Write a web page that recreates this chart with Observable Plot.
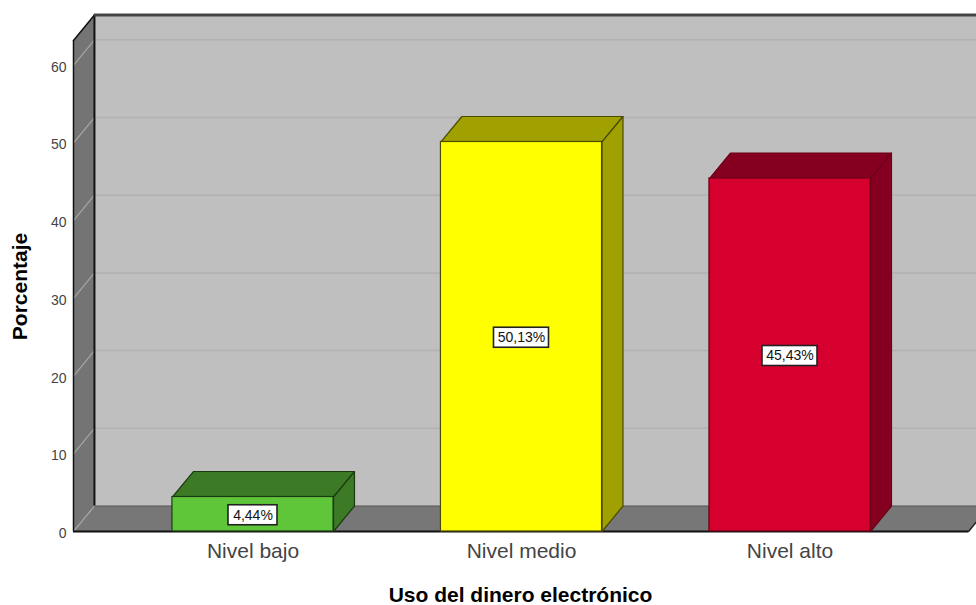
<!DOCTYPE html>
<html>
<head>
<meta charset="utf-8">
<script src="https://cdn.jsdelivr.net/npm/d3@7"></script>
<script src="https://cdn.jsdelivr.net/npm/@observablehq/plot@0.6"></script>
<style>
html,body{margin:0;padding:0;background:#fff;overflow:hidden}
svg{display:block;overflow:hidden}
</style>
</head>
<body>
<div id="chart"></div>
<script>
const categories = ["Nivel bajo", "Nivel medio", "Nivel alto"];
const values = [4.44, 50.13, 45.43];
const yTicks = [0, 10, 20, 30, 40, 50, 60];
const xTitle = "Uso del dinero electrónico";
const yTitle = "Porcentaje";

// 3D projection, expressed in scale units
const halfBar = 0.3, depthX = 0.078, depthY = 3.28;
const wallLeft = -0.6685, wallRight = 2.665, wallTop = 63.2;

const faceFront = ["#5fc63a", "#ffff00", "#d6002e"];
const faceDark = ["#3c7a26", "#a0a000", "#850020"];
const faceEdge = ["#1c3a12", "#4a4a00", "#6a0018"];

const polys = [];
const addPoly = (id, fill, stroke, pts) => {
  [...pts, pts[0]].forEach(([x, y]) => polys.push({id, fill, stroke, x, y}));
};
const wallPolys = [];
const addWall = (id, fill, pts) => {
  [...pts, pts[0]].forEach(([x, y]) => wallPolys.push({id, fill, x, y}));
};
addWall("back", "#bfbfbf", [[wallLeft + depthX, depthY], [wallRight + depthX, depthY], [wallRight + depthX, wallTop + depthY], [wallLeft + depthX, wallTop + depthY]]);
addWall("side", "#747474", [[wallLeft, 0], [wallLeft + depthX, depthY], [wallLeft + depthX, wallTop + depthY], [wallLeft, wallTop]]);
addWall("floor", "#777777", [[wallLeft, 0], [wallRight, 0], [wallRight + depthX, depthY], [wallLeft + depthX, depthY]]);

categories.forEach((c, i) => {
  const x0 = i - halfBar, x1 = i + halfBar, v = values[i];
  addPoly(c + "-top", faceDark[i], faceEdge[i], [[x0, v], [x1, v], [x1 + depthX, v + depthY], [x0 + depthX, v + depthY]]);
  addPoly(c + "-side", faceDark[i], faceEdge[i], [[x1, 0], [x1 + depthX, depthY], [x1 + depthX, v + depthY], [x1, v]]);
});

const rows = categories.map((c, i) => ({
  i, c, v: values[i],
  label: values[i].toFixed(2).replace(".", ",") + "%"
}));
const labelHalfWidth = d => 3 * d.label.length + 9.5;

const sideTicks = yTicks.flatMap(t => [
  {t, x: wallLeft, y: t},
  {t, x: wallLeft + depthX, y: t + depthY}
]);

const chart = Plot.plot({
  width: 976,
  height: 605,
  marginLeft: 73,
  marginRight: 0,
  marginTop: 15,
  marginBottom: 74,
  style: {fontFamily: "Liberation Sans, Arial, sans-serif", background: "#fff"},
  x: {domain: [wallLeft, wallLeft + 903 / 268.5], range: [73, 976]},
  y: {domain: [0, 516 / 7.77]},
  marks: [
    Plot.line(wallPolys, {x: "x", y: "y", z: "id", fill: "fill", stroke: "none"}),
    Plot.ruleY(yTicks.slice(1), {
      y: d => d + depthY, x1: wallLeft + depthX, x2: wallRight + depthX,
      stroke: "#b1b1b1", strokeWidth: 1.5
    }),
    Plot.line(sideTicks, {x: "x", y: "y", z: "t", stroke: "#a6a6a6", strokeWidth: 1.2}),
    // wall edges
    Plot.ruleX([wallLeft], {y1: 0, y2: wallTop, stroke: "#111", strokeWidth: 1.5}),
    Plot.ruleX([wallLeft + depthX], {y1: depthY, y2: wallTop + depthY, stroke: "#111", strokeWidth: 2}),
    Plot.line([[wallLeft, wallTop], [wallLeft + depthX, wallTop + depthY]], {stroke: "#111", strokeWidth: 1.5}),
    Plot.ruleY([wallTop + depthY], {x1: wallLeft + depthX, x2: wallRight + depthX, stroke: "#444", strokeWidth: 3}),
    Plot.ruleY([depthY], {x1: wallLeft + depthX, x2: wallRight + depthX, stroke: "#555", strokeWidth: 1.2}),
    Plot.line([[wallRight, 0], [wallRight + depthX, depthY]], {stroke: "#222", strokeWidth: 1.5}),
    Plot.ruleY([0], {x1: wallLeft, x2: wallRight, stroke: "#111", strokeWidth: 2}),
    // bars
    Plot.line(polys, {x: "x", y: "y", z: "id", fill: "fill", stroke: "stroke", strokeWidth: 1.2}),
    Plot.rect(rows, {
      x1: d => d.i - halfBar, x2: d => d.i + halfBar, y1: 0, y2: "v",
      fill: d => faceFront[d.i], stroke: d => faceEdge[d.i], strokeWidth: 1.2
    }),
    // value labels
    ...rows.map(d => Plot.rect([d], {
      x1: "i", x2: "i", y1: e => e.v / 2, y2: e => e.v / 2,
      insetLeft: -labelHalfWidth(d), insetRight: -labelHalfWidth(d), insetTop: -10, insetBottom: -10,
      dy: 1, fill: "#fff", stroke: "#222", strokeWidth: 1.6
    })),
    Plot.text(rows, {
      x: "i", y: d => d.v / 2, text: "label", dy: 1,
      fontSize: 14, fill: "#111", textAnchor: "middle"
    }),
    // axes
    Plot.axisY({
      ticks: yTicks, tickSize: 0, tickPadding: 7, label: null,
      fontSize: 14, color: "#444", dy: 2
    }),
    Plot.axisX({
      ticks: [0, 1, 2], tickFormat: i => categories[i], tickSize: 0, tickPadding: 12, label: null,
      fontSize: 21, color: "#444"
    }),
    Plot.text([yTitle], {
      text: d => d, frameAnchor: "left", textAnchor: "middle", lineAnchor: "middle", rotate: -90, dx: -53, dy: 13,
      fontSize: 21, fontWeight: "bold", fill: "#000"
    }),
    Plot.text([xTitle], {
      text: d => d, frameAnchor: "bottom", textAnchor: "middle", lineAnchor: "middle", dy: 64, dx: -4.5,
      fontSize: 21, fontWeight: "bold", fill: "#000"
    })
  ]
});
document.getElementById("chart").append(chart);
</script>
</body>
</html>
